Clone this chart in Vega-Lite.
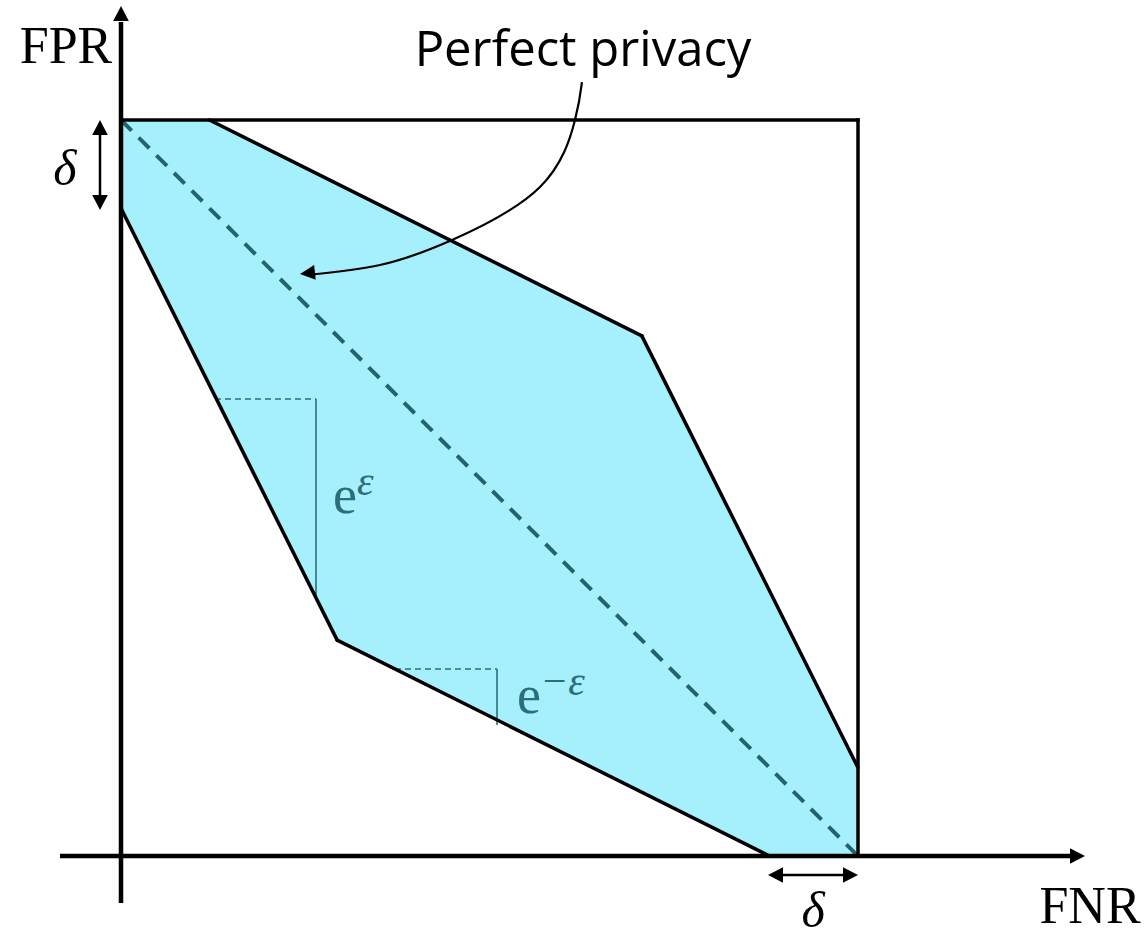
{
  "$schema": "https://vega.github.io/schema/vega-lite/v6.json",
  "width": 1145,
  "height": 933,
  "autosize": "none",
  "padding": 0,
  "background": "white",
  "config": {"view": {"stroke": null}},
  "datasets": {
    "region": [
      {"x": 0, "upper": 1, "lower": 0.88},
      {"x": 0.12, "upper": 1, "lower": 0.64},
      {"x": 0.2933, "upper": 0.9133, "lower": 0.2933},
      {"x": 0.7067, "upper": 0.7067, "lower": 0.0867},
      {"x": 0.88, "upper": 0.36, "lower": 0},
      {"x": 1, "upper": 0.12, "lower": 0}
    ],
    "segments": [
      {"kind": "axis", "x": -0.0828, "y": 0, "x2": 1.2904, "y2": 0},
      {"kind": "axis", "x": 0, "y": -0.0639, "x2": 0, "y2": 1.1332},
      {"kind": "square", "x": 0, "y": 1, "x2": 1, "y2": 1},
      {"kind": "square", "x": 1, "y": 1, "x2": 1, "y2": 0},
      {"kind": "edge", "x": 0.12, "y": 1, "x2": 0.7067, "y2": 0.7067},
      {"kind": "edge", "x": 0.7067, "y": 0.7067, "x2": 1, "y2": 0.12},
      {"kind": "edge", "x": 0, "y": 0.88, "x2": 0.2933, "y2": 0.2933},
      {"kind": "edge", "x": 0.2933, "y": 0.2933, "x2": 0.88, "y2": 0},
      {"kind": "diagonal", "x": 0, "y": 1, "x2": 1, "y2": 0},
      {"kind": "slopeDash", "x": 0.1275, "y": 0.6209, "x2": 0.2646, "y2": 0.6209},
      {"kind": "slopeDash", "x": 0.3718, "y": 0.2541, "x2": 0.5102, "y2": 0.2541},
      {"kind": "slopeSolid", "x": 0.2646, "y": 0.6209, "x2": 0.2646, "y2": 0.3478},
      {"kind": "slopeSolid", "x": 0.5102, "y": 0.2541, "x2": 0.5102, "y2": 0.178},
      {"kind": "delta", "x": -0.0285, "y": 0.985, "x2": -0.0285, "y2": 0.892},
      {"kind": "delta", "x": 0.892, "y": -0.0258, "x2": 0.986, "y2": -0.0258}
    ],
    "curve": [
      {"i": 0, "x": 0.6255, "y": 1.0516},
      {"i": 1, "x": 0.616, "y": 1.0},
      {"i": 2, "x": 0.5685, "y": 0.909},
      {"i": 3, "x": 0.4491, "y": 0.837},
      {"i": 4, "x": 0.3514, "y": 0.803},
      {"i": 5, "x": 0.2529, "y": 0.7895}
    ],
    "heads": [
      {"dir": "up", "x": 0, "y": 1.1549},
      {"dir": "up", "x": -0.0285, "y": 1.0},
      {"dir": "right", "x": 1.308, "y": 0},
      {"dir": "right", "x": 1.0, "y": -0.0258},
      {"dir": "down", "x": -0.0285, "y": 0.8777},
      {"dir": "left", "x": 0.8779, "y": -0.0258},
      {"dir": "curve", "x": 0.2429, "y": 0.7908}
    ],
    "labels": [
      {"kind": "axisLabel", "text": "FPR", "x": -0.0746, "y": 1.0774},
      {"kind": "axisLabel", "text": "FNR", "x": 1.3148, "y": -0.091},
      {"kind": "title", "text": "Perfect privacy", "x": 0.6269, "y": 1.0735},
      {"kind": "delta", "text": "δ", "x": -0.076, "y": 0.9117},
      {"kind": "delta", "text": "δ", "x": 0.939, "y": -0.0965},
      {"kind": "base", "text": "e", "x": 0.2877, "y": 0.466},
      {"kind": "base", "text": "e", "x": 0.5373, "y": 0.1943},
      {"kind": "sup", "text": "ε", "x": 0.3202, "y": 0.4905},
      {"kind": "sup", "text": "−ε", "x": 0.5685, "y": 0.2188}
    ]
  },
  "encoding": {
    "x": {"field": "x", "type": "quantitative", "scale": {"domain": [-0.16418, 1.38942], "nice": false, "zero": false}, "axis": null},
    "y": {"field": "y", "type": "quantitative", "scale": {"domain": [-0.10462, 1.16304], "nice": false, "zero": false}, "axis": null}
  },
  "layer": [
    {
      "data": {"name": "region"},
      "mark": {"type": "area", "color": "#a6f0fd", "opacity": 1},
      "encoding": {
        "y": {"field": "upper", "type": "quantitative"},
        "y2": {"field": "lower"}
      }
    },
    {
      "data": {"name": "segments"},
      "transform": [{"filter": "datum.kind === 'diagonal'"}],
      "mark": {"type": "rule", "color": "#24636e", "strokeWidth": 4, "strokeDash": [15, 10]},
      "encoding": {"x2": {"field": "x2"}, "y2": {"field": "y2"}}
    },
    {
      "data": {"name": "segments"},
      "transform": [{"filter": "datum.kind === 'slopeDash'"}],
      "mark": {"type": "rule", "color": "#2b6e7a", "strokeWidth": 1.6, "strokeDash": [6, 4]},
      "encoding": {"x2": {"field": "x2"}, "y2": {"field": "y2"}}
    },
    {
      "data": {"name": "segments"},
      "transform": [{"filter": "datum.kind === 'slopeSolid'"}],
      "mark": {"type": "rule", "color": "#2b6e7a", "strokeWidth": 1.6},
      "encoding": {"x2": {"field": "x2"}, "y2": {"field": "y2"}}
    },
    {
      "data": {"name": "segments"},
      "transform": [{"filter": "datum.kind === 'edge'"}],
      "mark": {"type": "rule", "color": "black", "strokeWidth": 3.5, "strokeCap": "round"},
      "encoding": {"x2": {"field": "x2"}, "y2": {"field": "y2"}}
    },
    {
      "data": {"name": "segments"},
      "transform": [{"filter": "datum.kind === 'square'"}],
      "mark": {"type": "rule", "color": "black", "strokeWidth": 3.5, "strokeCap": "square"},
      "encoding": {"x2": {"field": "x2"}, "y2": {"field": "y2"}}
    },
    {
      "data": {"name": "segments"},
      "transform": [{"filter": "datum.kind === 'axis'"}],
      "mark": {"type": "rule", "color": "black", "strokeWidth": 4.5},
      "encoding": {"x2": {"field": "x2"}, "y2": {"field": "y2"}}
    },
    {
      "data": {"name": "segments"},
      "transform": [{"filter": "datum.kind === 'delta'"}],
      "mark": {"type": "rule", "color": "black", "strokeWidth": 2.5},
      "encoding": {"x2": {"field": "x2"}, "y2": {"field": "y2"}}
    },
    {
      "data": {"name": "curve"},
      "mark": {"type": "line", "color": "black", "strokeWidth": 2.2, "interpolate": "natural"},
      "encoding": {"order": {"field": "i", "type": "quantitative"}}
    },
    {
      "data": {"name": "heads"},
      "transform": [{"filter": "datum.dir === 'up'"}],
      "mark": {"type": "point", "shape": "M0,0L-1,-0.52L-1,0.52Z", "filled": true, "color": "black", "opacity": 1, "size": 900, "angle": 270}
    },
    {
      "data": {"name": "heads"},
      "transform": [{"filter": "datum.dir === 'down'"}],
      "mark": {"type": "point", "shape": "M0,0L-1,-0.52L-1,0.52Z", "filled": true, "color": "black", "opacity": 1, "size": 900, "angle": 90}
    },
    {
      "data": {"name": "heads"},
      "transform": [{"filter": "datum.dir === 'right'"}],
      "mark": {"type": "point", "shape": "M0,0L-1,-0.52L-1,0.52Z", "filled": true, "color": "black", "opacity": 1, "size": 900, "angle": 0}
    },
    {
      "data": {"name": "heads"},
      "transform": [{"filter": "datum.dir === 'left'"}],
      "mark": {"type": "point", "shape": "M0,0L-1,-0.52L-1,0.52Z", "filled": true, "color": "black", "opacity": 1, "size": 900, "angle": 180}
    },
    {
      "data": {"name": "heads"},
      "transform": [{"filter": "datum.dir === 'curve'"}],
      "mark": {"type": "point", "shape": "M0,0L-1,-0.5L-1,0.5Z", "filled": true, "color": "black", "opacity": 1, "size": 900, "angle": 174}
    },
    {
      "data": {"name": "labels"},
      "transform": [{"filter": "datum.kind === 'axisLabel'"}],
      "mark": {"type": "text", "font": "Liberation Serif", "fontSize": 52, "color": "black", "align": "center", "baseline": "alphabetic"},
      "encoding": {"text": {"field": "text"}}
    },
    {
      "data": {"name": "labels"},
      "transform": [{"filter": "datum.kind === 'title'"}],
      "mark": {"type": "text", "font": "Open Sans", "fontSize": 49, "color": "black", "align": "center", "baseline": "alphabetic"},
      "encoding": {"text": {"field": "text"}}
    },
    {
      "data": {"name": "labels"},
      "transform": [{"filter": "datum.kind === 'delta'"}],
      "mark": {"type": "text", "font": "Liberation Serif", "fontStyle": "italic", "fontSize": 50, "color": "black", "align": "center", "baseline": "alphabetic"},
      "encoding": {"text": {"field": "text"}}
    },
    {
      "data": {"name": "labels"},
      "transform": [{"filter": "datum.kind === 'base'"}],
      "mark": {"type": "text", "font": "Liberation Serif", "fontSize": 54, "color": "#2b6e7a", "align": "left", "baseline": "alphabetic"},
      "encoding": {"text": {"field": "text"}}
    },
    {
      "data": {"name": "labels"},
      "transform": [{"filter": "datum.kind === 'sup'"}],
      "mark": {"type": "text", "font": "Liberation Serif", "fontStyle": "italic", "fontSize": 42, "color": "#2b6e7a", "align": "left", "baseline": "alphabetic"},
      "encoding": {"text": {"field": "text"}}
    }
  ]
}
